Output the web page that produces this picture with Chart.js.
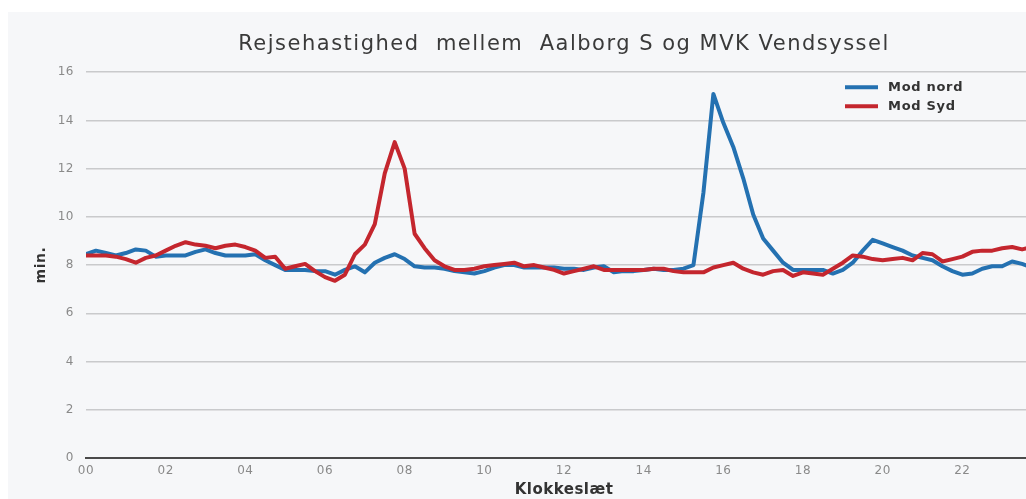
<!DOCTYPE html>
<html>
<head>
<meta charset="utf-8">
<script src="https://cdn.jsdelivr.net/npm/chart.js@4"></script>
<style>
  html, body { margin: 0; padding: 0; background: #ffffff; overflow: hidden; }
  #wrap { position: absolute; left: 8px; top: 12px; width: 1050px; height: 487px; background: #f6f7f9; }
</style>
</head>
<body>
<div id="wrap"><canvas id="myChart" width="1050" height="487"></canvas></div>
<script>
// quarter-hour samples, 00:00 .. 23:45
const times = Array.from({length: 96}, (_, i) => i / 4);
const hourLabels = ['00', '02', '04', '06', '08', '10', '12', '14', '16', '18', '20', '22'];

const modNord = [
  8.45, 8.6, 8.5, 8.4, 8.5, 8.65, 8.6, 8.35, 8.4, 8.4, 8.4, 8.55,
  8.65, 8.5, 8.4, 8.4, 8.4, 8.45, 8.2, 8.0, 7.8, 7.8, 7.8, 7.75,
  7.75, 7.6, 7.8, 7.95, 7.7, 8.1, 8.3, 8.45, 8.25, 7.95, 7.9, 7.9,
  7.85, 7.75, 7.7, 7.65, 7.75, 7.9, 8.0, 8.0, 7.9, 7.9, 7.9, 7.9,
  7.85, 7.85, 7.8, 7.9, 7.95, 7.7, 7.75, 7.75, 7.8, 7.85, 7.8, 7.8,
  7.85, 8.0, 11.0, 15.1, 13.9, 12.9, 11.6, 10.1, 9.1, 8.6, 8.1, 7.8,
  7.8, 7.8, 7.8, 7.65, 7.8, 8.1, 8.6, 9.05, 8.9, 8.75, 8.6, 8.4,
  8.3, 8.2, 7.95, 7.75, 7.6, 7.65, 7.85, 7.95, 7.95, 8.15, 8.05, 7.9
];

const modSyd = [
  8.4, 8.4, 8.4, 8.35, 8.25, 8.1, 8.3, 8.4, 8.6, 8.8, 8.95, 8.85,
  8.8, 8.7, 8.8, 8.85, 8.75, 8.6, 8.3, 8.35, 7.85, 7.95, 8.05, 7.75,
  7.5, 7.35, 7.6, 8.45, 8.85, 9.7, 11.8, 13.1, 12.0, 9.3, 8.7, 8.2,
  7.95, 7.8, 7.8, 7.85, 7.95, 8.0, 8.05, 8.1, 7.95, 8.0, 7.9, 7.8,
  7.65, 7.75, 7.85, 7.95, 7.8, 7.8, 7.8, 7.8, 7.8, 7.85, 7.85, 7.75,
  7.7, 7.7, 7.7, 7.9, 8.0, 8.1, 7.85, 7.7, 7.6, 7.75, 7.8, 7.55,
  7.7, 7.65, 7.6, 7.85, 8.1, 8.4, 8.35, 8.25, 8.2, 8.25, 8.3, 8.2,
  8.5, 8.45, 8.15, 8.25, 8.35, 8.55, 8.6, 8.6, 8.7, 8.75, 8.65, 8.75
];

const toPoints = (vals) => vals.map((v, i) => ({x: times[i], y: v}));

// the original uses a wide, slightly letter-spaced type
const spacing = {
  id: 'spacing',
  beforeDraw(chart) {
    chart.ctx.letterSpacing = '0.5px';
    const tb = chart.titleBlock;
    if (tb && !tb._spaced) {
      const orig = tb.draw;
      tb.draw = function (area) {
        const c = this.ctx;
        c.save();
        c.letterSpacing = '1.5px';
        orig.call(this, area);
        c.restore();
      };
      tb._spaced = true;
    }
  }
};

// legend drawn inside the plot, top right
const insideLegend = {
  id: 'insideLegend',
  afterDatasetsDraw(chart) {
    const ctx = chart.ctx;
    const a = chart.chartArea;
    ctx.save();
    chart.data.datasets.forEach((ds, i) => {
      const y = a.top + 15 + i * 19;
      ctx.strokeStyle = ds.borderColor;
      ctx.lineWidth = 4;
      ctx.beginPath();
      ctx.moveTo(a.left + 759, y);
      ctx.lineTo(a.left + 792, y);
      ctx.stroke();
      ctx.fillStyle = '#333';
      ctx.letterSpacing = '0.7px';
      ctx.font = 'bold 13px "DejaVu Sans"';
      ctx.textBaseline = 'middle';
      ctx.fillText(ds.label, a.left + 802, y);
    });
    ctx.restore();
  }
};

const ctx = document.getElementById('myChart').getContext('2d');
const myChart = new Chart(ctx, {
  type: 'line',
  data: {
    datasets: [
      {
        label: 'Mod nord',
        data: toPoints(modNord),
        borderColor: '#2471b1',
        backgroundColor: '#2471b1',
        borderWidth: 4,
        order: 1
      },
      {
        label: 'Mod Syd',
        data: toPoints(modSyd),
        borderColor: '#c4262e',
        backgroundColor: '#c4262e',
        borderWidth: 4,
        order: 0
      }
    ]
  },
  options: {
    responsive: false,
    animation: false,
    layout: { padding: { left: 25, right: 16, top: 0, bottom: 0 } },
    elements: {
      point: { radius: 0 },
      line: { tension: 0, borderJoinStyle: 'round', borderCapStyle: 'round' }
    },
    plugins: {
      legend: { display: false },
      tooltip: { enabled: false },
      title: {
        display: true,
        fullSize: false,
        text: 'Rejsehastighed  mellem  Aalborg S og MVK Vendsyssel',
        color: '#3a3a3a',
        font: { family: 'DejaVu Sans', size: 21, weight: 'normal' },
        padding: { top: 20, bottom: 15 }
      }
    },
    scales: {
      x: {
        type: 'linear',
        min: 0,
        max: 24,
        afterFit: (s) => { s.height = 41; },
        ticks: {
          stepSize: 2,
          autoSkip: false,
          maxRotation: 0,
          padding: 6,
          color: '#8a8a8a',
          font: { family: 'DejaVu Sans', size: 12 },
          callback: (v) => hourLabels[v / 2] || ''
        },
        grid: { display: false, drawTicks: false },
        border: { display: true, color: '#4a4a4a', width: 2 },
        title: {
          display: true,
          text: 'Klokkeslæt',
          color: '#333',
          font: { family: 'DejaVu Sans', size: 15, weight: 'bold' },
          padding: { top: 0, bottom: 0 }
        }
      },
      y: {
        min: 0,
        max: 16,
        afterFit: (s) => { s.width = 53; },
        ticks: {
          stepSize: 2,
          padding: 12,
          color: '#8a8a8a',
          font: { family: 'DejaVu Sans', size: 12 }
        },
        grid: {
          color: '#c9cacc',
          lineWidth: 1.5,
          drawTicks: false
        },
        border: { display: false },
        title: {
          display: true,
          text: 'min.',
          color: '#333',
          font: { family: 'DejaVu Sans', size: 14, weight: 'bold' },
          padding: 0
        }
      }
    }
  },
  plugins: [spacing, insideLegend]
});
</script>
</body>
</html>
